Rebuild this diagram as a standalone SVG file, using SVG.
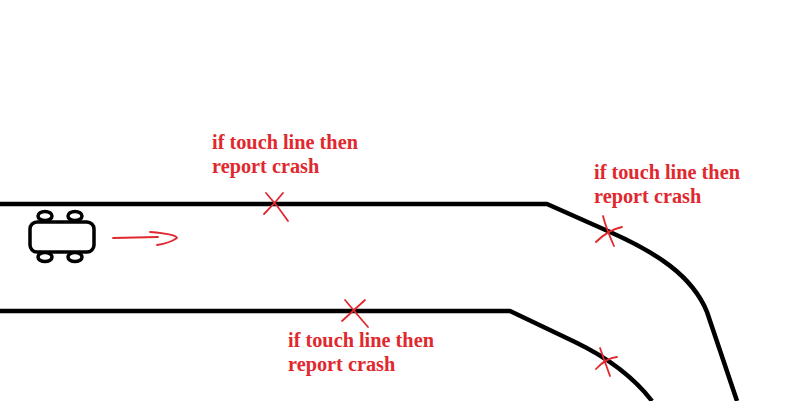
<svg xmlns="http://www.w3.org/2000/svg" width="799" height="401" viewBox="0 0 799 401">
<style>
.road{fill:none;stroke:#000;stroke-width:4.5;stroke-linejoin:round}
.car{fill:#fff;stroke:#000;stroke-width:3.5}
.red{fill:none;stroke:#e0282e;stroke-width:1.8;stroke-linecap:round;stroke-linejoin:round}
.lbl{font-family:"Liberation Serif","Times New Roman",serif;font-weight:bold;font-size:20.3px;fill:#e0282e}
</style>
<rect width="799" height="401" fill="#fff"/>
<g id="connectors">
<path class="road" d="M0 204 L547 204 L610 232 C655 252 692 275 707 312 L737 401"/>
<path class="road" d="M0 311 L510 311 L575 342 Q625 366 652 401"/>
</g>
<g id="car">
<ellipse class="car" cx="45" cy="216" rx="7" ry="4.5"/>
<ellipse class="car" cx="75" cy="216" rx="7" ry="4.5"/>
<ellipse class="car" cx="45" cy="257" rx="7" ry="4.5"/>
<ellipse class="car" cx="75" cy="257" rx="7" ry="4.5"/>
<rect class="car" x="30" y="222" width="64" height="30" rx="7"/>
</g>
<g id="direction-arrow">
<path class="red" d="M113 238 L158 237"/>
<path class="red" d="M150 232 Q176 234 177 238 Q170 243 157 245"/>
</g>
<g id="mark1">
<path class="red" d="M266 193 Q278 206 288 221 M264 214 Q275 203 283 193"/>
</g>
<g id="mark2">
<path class="red" d="M345 300 Q355 312 368 327 M342 321 Q354 310 365 300"/>
</g>
<g id="mark3">
<path class="red" d="M596 242 Q608 230 622 227 M603 216 Q606 228 614 246"/>
</g>
<g id="mark4">
<path class="red" d="M596 369 Q606 358 617 357 M600 348 Q605 362 610 376"/>
</g>
<g id="label1">
<text class="lbl" x="212" y="149">if touch line then</text>
<text class="lbl" x="212" y="173">report crash</text>
</g>
<g id="label2">
<text class="lbl" x="594" y="179">if touch line then</text>
<text class="lbl" x="594" y="203">report crash</text>
</g>
<g id="label3">
<text class="lbl" x="288" y="347">if touch line then</text>
<text class="lbl" x="288" y="371">report crash</text>
</g>
</svg>
